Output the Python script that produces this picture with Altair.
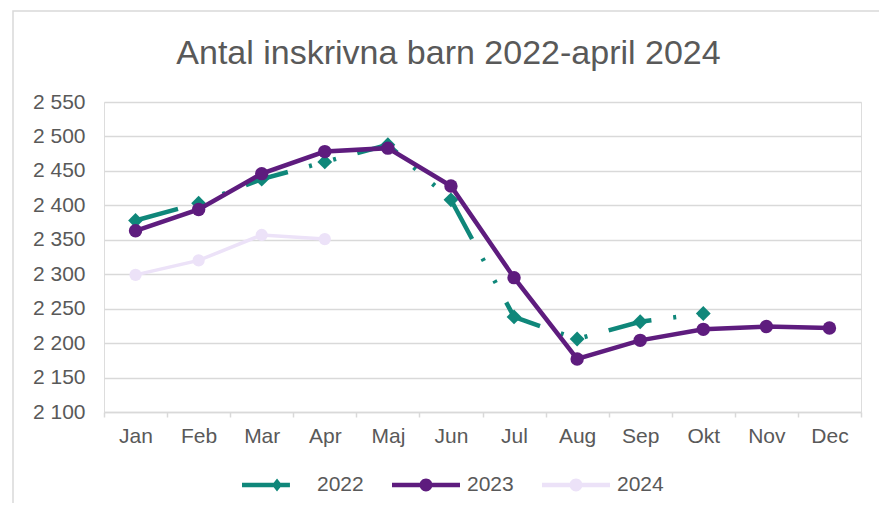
import altair as alt
import pandas as pd

months = ["Jan", "Feb", "Mar", "Apr", "Maj", "Jun", "Jul", "Aug", "Sep", "Okt", "Nov", "Dec"]
years = ["2022", "2023", "2024"]
v2022 = [2378, 2403, 2438, 2463, 2488, 2408, 2238, 2206, 2231, 2243]
v2023 = [2363, 2394, 2446, 2478, 2483, 2428, 2295, 2177, 2204, 2220, 2224, 2222]
v2024 = [2299, 2320, 2357, 2351]
y_ticks = [2100, 2150, 2200, 2250, 2300, 2350, 2400, 2450, 2500, 2550]

colors = ["#0f877a", "#5e1c7e", "#ece2f8"]

rows = []
for yr, vals in zip(years, [v2022, v2023, v2024]):
    for m, v in zip(months, vals):
        rows.append({"month": m, "year": yr, "value": v})
df = pd.DataFrame(rows)

FONT = "Liberation Sans"
GRAY = "#595959"

x_enc = alt.X(
    "month:N",
    sort=months,
    bandPosition=0.5,
    scale=alt.Scale(type="band", domain=months, paddingInner=0, paddingOuter=0),
    axis=alt.Axis(
        title=None, grid=False, tickBand="extent", tickSize=5, tickColor="#d9d9d9",
        domainColor="#d9d9d9", domainWidth=1.5, tickWidth=1.5,
        labelFontSize=21, labelColor=GRAY, labelFont=FONT, labelPadding=8, labelAngle=0,
    ),
)
y_enc = alt.Y(
    "value:Q",
    scale=alt.Scale(domain=[2100, 2550], nice=False, zero=False),
    axis=alt.Axis(
        title=None, values=y_ticks, grid=True, gridColor="#d9d9d9", gridWidth=1.5,
        domain=False, ticks=False, labelPadding=19,
        labelFontSize=21, labelColor=GRAY, labelFont=FONT,
        labelExpr="replace(format(datum.value, ','), ',', ' ')",
    ),
)

base = alt.Chart(df)

border = alt.Chart(alt.Data(values=[{"a": 1}])).mark_rect(
    fillOpacity=0, stroke="#d9d9d9", strokeWidth=1.5
).encode(
    x=alt.value(-91), x2=alt.value(800), y=alt.value(-91), y2=alt.value(460)
)

layers = [border]
styles = {
    "2022": dict(dash=[44, 22, 3, 22, 3, 22], width=4.5, shape="diamond", size=220),
    "2023": dict(dash=None, width=4.5, shape="circle", size=180),
    "2024": dict(dash=None, width=3.5, shape="circle", size=150),
}
for yr, col in zip(years, colors):
    s = styles[yr]
    line_kwargs = dict(color=col, strokeWidth=s["width"])
    if s["dash"]:
        line_kwargs["strokeDash"] = s["dash"]
    ln = base.transform_filter(alt.datum.year == yr).mark_line(**line_kwargs).encode(x=x_enc, y=y_enc)
    pt = base.transform_filter(alt.datum.year == yr).mark_point(
        filled=True, color=col, shape=s["shape"], size=s["size"], opacity=1
    ).encode(x=x_enc, y=y_enc)
    layers += [ln, pt]

p2022 = "M-1,-0.066H0.41V0.066H-1Z M0.03,-0.19L0.18,0L0.03,0.19L-0.12,0Z"
pcirc = "M-1,-0.066H1V0.066H-1Z M-0.19,0A0.19,0.19 0 1,1 0.19,0A0.19,0.19 0 1,1 -0.19,0Z"
legend = alt.Legend(
    title=None, orient="none", legendX=138, legendY=349, direction="horizontal", columns=3,
    columnPadding=28, labelOffset=7, labelFontSize=21, labelColor=GRAY, labelFont=FONT,
    symbolSize=4624, symbolStrokeWidth=0, padding=0,
)
legend_layer = base.transform_filter("false").mark_point(filled=True, size=4624, opacity=1).encode(
    color=alt.Color("year:N", scale=alt.Scale(domain=years, range=colors), legend=legend),
    shape=alt.Shape("year:N", scale=alt.Scale(domain=years, range=[p2022, pcirc, pcirc]), legend=legend),
)
layers.append(legend_layer)

chart = alt.layer(*layers).properties(
    width=757, height=310,
    title=alt.TitleParams(
        "Antal inskrivna barn 2022-april 2024", fontSize=34, font=FONT, color=GRAY,
        fontWeight="normal", anchor="middle", dx=-34, offset=0, baseline="alphabetic", dy=88,
    ),
    autosize=alt.AutoSizeParams(type="none"),
    padding={"left": 96, "top": 94, "right": 18, "bottom": 91},
).configure_view(stroke=None).configure(background="white")

chart.save("out.html", embed_options={"renderer": "svg", "actions": False})
